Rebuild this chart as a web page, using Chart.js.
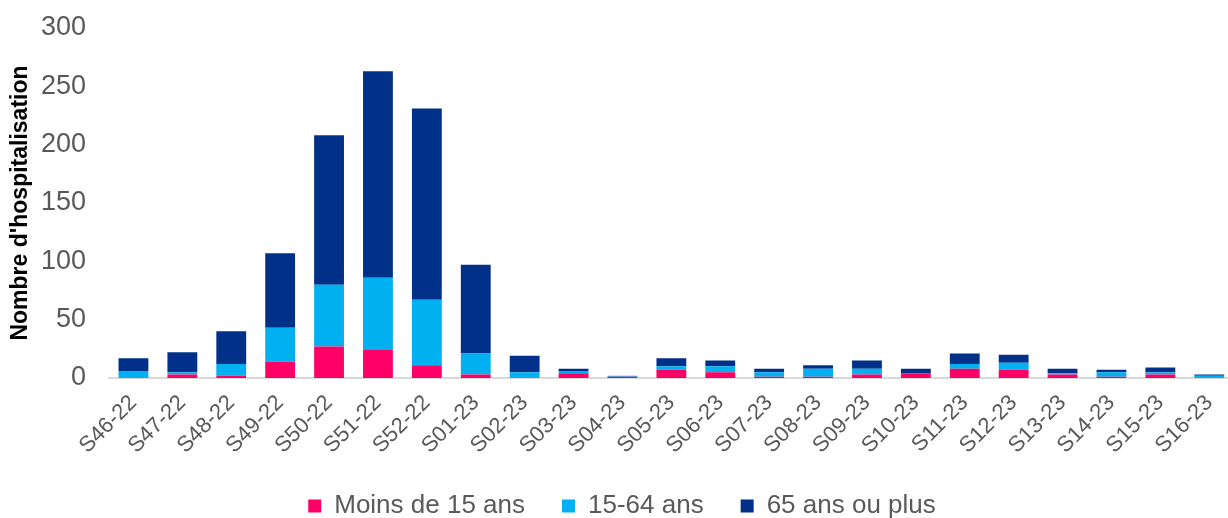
<!DOCTYPE html>
<html>
<head>
<meta charset="utf-8">
<script src="https://cdn.jsdelivr.net/npm/chart.js@4"></script>
<style>
  html, body { margin: 0; padding: 0; background: #fff; overflow: hidden; }
  #wrap { width: 1240px; height: 518px; }
</style>
</head>
<body>
<div id="wrap"><canvas id="graph"></canvas></div>
<script>
// weeks
const weeks = ['S46-22', 'S47-22', 'S48-22', 'S49-22', 'S50-22', 'S51-22', 'S52-22', 'S01-23',
    'S02-23', 'S03-23', 'S04-23', 'S05-23', 'S06-23', 'S07-23', 'S08-23', 'S09-23', 'S10-23',
    'S11-23', 'S12-23', 'S13-23', 'S14-23', 'S15-23', 'S16-23'];

// hospitalisations par classe d'age
const moins15 = [0, 3, 2, 14, 27, 24, 11, 3, 0, 4, 1, 7, 5, 1, 1, 3, 4, 8, 7, 3, 1, 3, 0];
const de15a64 = [6, 2, 10, 29, 53, 62, 56, 18, 5, 2, 1, 3, 5, 4, 7, 5, 0, 4, 6, 1, 4, 2, 2];
const plus65 = [11, 17, 28, 64, 128, 177, 164, 76, 14, 2, 0, 7, 5, 3, 3, 7, 4, 9, 7, 4, 2, 4, 1];

const yTicks = [0, 50, 100, 150, 200, 250, 300];

const grey = '#595959';
const font = 'Liberation Sans, Arial, sans-serif';

var ctx = document.getElementById('graph').getContext('2d');
var myChart = new Chart(ctx, {
    type: 'bar',
    data: {
        labels: weeks,
        datasets: [
            { label: 'Moins de 15 ans', data: moins15, backgroundColor: '#FF0066' },
            { label: '15-64 ans', data: de15a64, backgroundColor: '#00B0F0' },
            { label: '65 ans ou plus', data: plus65, backgroundColor: '#003087' }
        ]
    },
    options: {
        responsive: true,
        maintainAspectRatio: false,
        animation: false,
        layout: {
            padding: { top: 0, left: 7, right: 3, bottom: -11 }
        },
        datasets: {
            bar: {
                categoryPercentage: 0.61,
                barPercentage: 1,
                borderWidth: 0
            }
        },
        plugins: {
            legend: {
                position: 'bottom',
                labels: {
                    color: grey,
                    font: { family: font, size: 26 },
                    boxWidth: 13,
                    boxHeight: 13,
                    padding: 37
                }
            },
            tooltip: { enabled: false }
        },
        scales: {
            x: {
                stacked: true,
                grid: { display: false, drawTicks: false },
                border: { display: true, color: '#d9d9d9', width: 2 },
                ticks: {
                    color: grey,
                    font: { family: font, size: 22 },
                    minRotation: 45,
                    maxRotation: 45,
                    autoSkip: false,
                    padding: 12
                },
                afterFit: function(scale) {
                    scale.height = 78;
                }
            },
            y: {
                stacked: true,
                min: 0,
                max: 300,
                afterBuildTicks: function(axis) {
                    axis.ticks = yTicks.map(function(v) { return { value: v }; });
                },
                grid: { display: false, drawTicks: false },
                border: { display: false },
                ticks: {
                    color: grey,
                    font: { family: font, size: 27 },
                    padding: 23
                },
                title: {
                    display: true,
                    text: "Nombre d'hospitalisation",
                    color: '#000',
                    font: { family: font, size: 23, weight: 'bold' },
                    padding: { top: 0, bottom: 6 }
                },
                afterFit: function(scale) {
                    scale.width = 102;
                    scale.paddingTop = 28;
                }
            }
        }
    }
});
</script>
</body>
</html>
